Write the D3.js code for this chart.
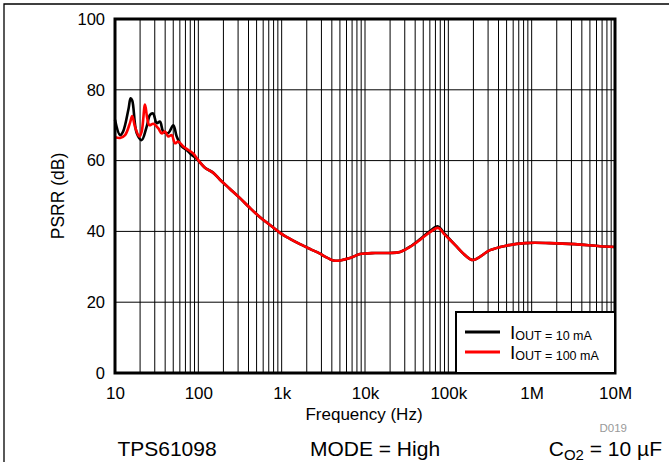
<!DOCTYPE html>
<html>
<head>
<meta charset="utf-8">
<script src="https://cdn.jsdelivr.net/npm/d3@7"></script>
<style>
  body { margin: 0; background: white; }
  text { font-family: "Liberation Sans", Arial, sans-serif; }
</style>
</head>
<body>
<svg id="chart" width="669" height="462"></svg>
<script>
// ---- data ----
var freq10mA = [10, 11.5, 12.5, 14.5, 15.4, 16.1, 18.2, 20.9, 24.0, 26.3, 28.6, 31.7, 34.7, 38.0, 43.6, 50.1, 55.0, 63.2, 72.5, 83.3, 96.4];
var psrr10mA = [71.5, 67.2, 68.2, 74.5, 77.6, 77.0, 67.8, 65.8, 69.6, 72.9, 73.3, 70.6, 71.0, 68.2, 67.8, 70.0, 66.8, 64.0, 63.0, 61.6, 60.4];

var freq100mA = [10, 11.5, 13.2, 15.1, 16.1, 17.4, 19.6, 20.9, 22.9, 24.4, 25.8, 28.8, 33.1, 36.3, 39.8, 43.6, 47.9, 52.5, 57.5, 66.0, 75.8, 87.0, 96.4];
var psrr100mA = [66.6, 66.4, 67.2, 70.6, 72.6, 69.5, 66.8, 68.2, 75.8, 71.9, 70.0, 70.4, 69.1, 67.7, 68.2, 66.8, 67.2, 64.9, 65.4, 64.0, 63.0, 62.0, 60.6];

// above ~100 Hz the two curves overlap
var freqHigh = [120, 150, 182, 240, 316, 417, 550, 724, 955, 1259, 1660, 2200, 2884, 3500, 4365, 6607, 8710, 13180, 19950, 26300, 34670, 45710, 60260, 75160, 91200, 120200, 158500, 197700, 316200, 478600, 831800, 1660000, 3310000, 6610000, 10000000];
var psrrHigh10mA = [58.0, 56.6, 54.6, 52.0, 49.4, 46.6, 44.0, 41.8, 39.6, 37.9, 36.4, 35.0, 33.7, 32.6, 31.7, 32.5, 33.6, 33.9, 33.9, 34.2, 35.7, 37.8, 40.1, 41.4, 39.2, 36.2, 33.3, 31.9, 34.7, 35.9, 36.7, 36.7, 36.4, 35.8, 35.6];
var psrrHigh100mA = [58.0, 56.6, 54.6, 52.0, 49.4, 46.6, 44.0, 41.8, 39.6, 37.9, 36.4, 35.0, 33.7, 32.6, 31.7, 32.5, 33.6, 33.9, 33.9, 34.2, 35.6, 37.6, 39.8, 41.0, 39.0, 36.2, 33.3, 31.9, 34.7, 35.9, 36.7, 36.7, 36.4, 35.8, 35.6];

var xTickValues = [10, 100, 1e3, 1e4, 1e5, 1e6, 1e7];
var xTickLabels = ["10", "100", "1k", "10k", "100k", "1M", "10M"];
var yTickValues = [0, 20, 40, 60, 80, 100];

var seriesNames = ["10 mA", "100 mA"];
var seriesColors = ["#000000", "#ff0000"];

// ---- layout ----
var svg = d3.select("#chart"),
    width = +svg.attr("width"),
    height = +svg.attr("height");

// note: "top" is taken by window.top, hence the plot* names
var plotLeft = 115, plotRight = 615, plotTop = 19, plotBottom = 373;

var x = d3.scaleLog().domain([10, 1e7]).range([plotLeft, plotRight]);
var y = d3.scaleLinear().domain([0, 100]).range([plotBottom, plotTop]);

// outer frame (top and left edges only)
svg.append("path")
    .attr("d", "M4," + height + " L4,4 L" + width + ",4")
    .style("fill", "none")
    .style("stroke", "black")
    .style("stroke-width", 1.3);

// grid
var minor = [];
for (var e = 1; e < 7; e++) {
    for (var d = 1; d <= 9; d++) {
        var v = d * Math.pow(10, e);
        if (v > 10 && v < 1e7) minor.push(v);
    }
}
svg.append("g").selectAll("line")
    .data(minor).enter()
    .append("line")
    .attr("x1", function(d) { return x(d); })
    .attr("x2", function(d) { return x(d); })
    .attr("y1", plotTop)
    .attr("y2", plotBottom)
    .style("stroke", "black")
    .style("stroke-width", 1);

svg.append("g").selectAll("line")
    .data(yTickValues.slice(1, -1)).enter()
    .append("line")
    .attr("x1", plotLeft)
    .attr("x2", plotRight)
    .attr("y1", function(d) { return y(d); })
    .attr("y2", function(d) { return y(d); })
    .style("stroke", "black")
    .style("stroke-width", 1);

// curves
function toPoints(fs, vs) {
    return fs.map(function(f, i) { return [f, vs[i]]; });
}
var series = [
    toPoints(freq10mA.concat(freqHigh), psrr10mA.concat(psrrHigh10mA)),
    toPoints(freq100mA.concat(freqHigh), psrr100mA.concat(psrrHigh100mA))
];

var line = d3.line()
    .x(function(d) { return x(d[0]); })
    .y(function(d) { return y(d[1]); })
    .curve(d3.curveCatmullRom.alpha(0.5));

svg.append("g").selectAll("path")
    .data(series).enter()
    .append("path")
    .attr("d", line)
    .style("fill", "none")
    .style("stroke", function(d, i) { return seriesColors[i]; })
    .style("stroke-width", 2.6)
    .style("stroke-linejoin", "round");

// plot border
svg.append("rect")
    .attr("x", plotLeft)
    .attr("y", plotTop)
    .attr("width", plotRight - plotLeft)
    .attr("height", plotBottom - plotTop)
    .style("fill", "none")
    .style("stroke", "black")
    .style("stroke-width", 3);

// axes (labels only, the border acts as the axis line)
var xAxis = d3.axisBottom(x)
    .tickValues(xTickValues)
    .tickSize(0)
    .tickPadding(14)
    .tickFormat(function(d, i) { return xTickLabels[i]; });
var gx = svg.append("g").attr("transform", "translate(0," + plotBottom + ")").call(xAxis);
gx.select(".domain").remove();
gx.selectAll("text").style("font-size", "17px").style("font-family", "'Liberation Sans', Arial, sans-serif").attr("fill", "black");

var yAxis = d3.axisLeft(y)
    .tickValues(yTickValues)
    .tickSize(0)
    .tickPadding(10);
var gy = svg.append("g").attr("transform", "translate(" + plotLeft + ",0)").call(yAxis);
gy.select(".domain").remove();
gy.selectAll("text").style("font-size", "16.5px").style("font-family", "'Liberation Sans', Arial, sans-serif").attr("fill", "black");

// axis titles
svg.append("text")
    .attr("x", 364)
    .attr("y", 420)
    .attr("text-anchor", "middle")
    .attr("font-size", 17)
    .text("Frequency (Hz)");

svg.append("text")
    .attr("transform", "translate(64," + ((plotTop + plotBottom) / 2) + ") rotate(-90)")
    .attr("text-anchor", "middle")
    .attr("font-size", 17.5)
    .text("PSRR (dB)");

svg.append("text")
    .attr("x", 627)
    .attr("y", 432)
    .attr("text-anchor", "end")
    .attr("font-size", 11.5)
    .attr("fill", "#999")
    .text("D019");

// legend
var lg = svg.append("g");
lg.append("rect")
    .attr("x", 456)
    .attr("y", 312)
    .attr("width", plotRight - 456)
    .attr("height", plotBottom - 312)
    .style("fill", "white")
    .style("stroke", "black")
    .style("stroke-width", 2);

seriesNames.forEach(function(name, i) {
    var ly = 332 + i * 20;
    lg.append("line")
        .attr("x1", 465).attr("x2", 500)
        .attr("y1", ly).attr("y2", ly)
        .style("stroke", seriesColors[i])
        .style("stroke-width", 3);
    var t = lg.append("text")
        .attr("x", 510)
        .attr("y", ly + 6.5)
        .attr("font-size", 19);
    t.append("tspan").text("I");
    t.append("tspan").attr("font-size", 12.5).attr("dy", 1).text("OUT = " + name);
});

// footer
svg.append("text")
    .attr("x", 167).attr("y", 456)
    .attr("text-anchor", "middle")
    .attr("font-size", 21)
    .text("TPS61098");

svg.append("text")
    .attr("x", 375).attr("y", 456)
    .attr("text-anchor", "middle")
    .attr("font-size", 21)
    .text("MODE = High");

var ct = svg.append("text")
    .attr("x", 662).attr("y", 456)
    .attr("text-anchor", "end")
    .attr("font-size", 21);
ct.append("tspan").text("C");
ct.append("tspan").attr("font-size", 15).attr("dy", 4).text("O2");
ct.append("tspan").attr("dy", -4).text(" = 10 \u00b5F");
</script>
</body>
</html>
